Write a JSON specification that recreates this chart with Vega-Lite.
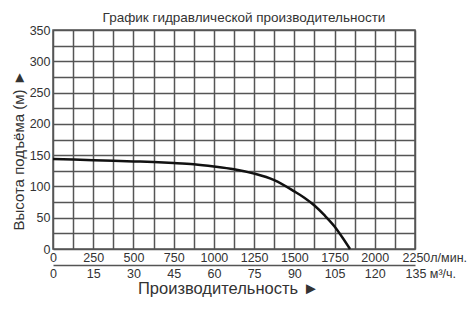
{
  "$schema": "https://vega.github.io/schema/vega-lite/v6.json",
  "width": 362,
  "height": 219,
  "autosize": {"type": "none"},
  "padding": {"left": 53, "top": 30, "right": 60, "bottom": 65},
  "background": "white",
  "title": {
    "text": "График гидравлической производительности",
    "font": "Liberation Sans",
    "fontSize": 13.5,
    "fontWeight": "normal",
    "color": "#333",
    "anchor": "middle",
    "dx": 10,
    "offset": 0
  },
  "config": {
    "view": {"stroke": "#555", "strokeWidth": 1.5, "fill": "white"},
    "axis": {
      "labelFont": "Liberation Sans",
      "labelFontSize": 12.5,
      "labelColor": "#333",
      "titleFont": "Liberation Sans",
      "titleFontSize": 13,
      "titleFontWeight": "normal",
      "titleColor": "#333",
      "gridColor": "#555",
      "gridWidth": 1.5,
      "gridOpacity": 1
    }
  },
  "data": {
    "values": [
      {"lpm": 0, "m3h": 0, "head": 144},
      {"lpm": 125, "m3h": 7.5, "head": 143},
      {"lpm": 250, "m3h": 15, "head": 142},
      {"lpm": 375, "m3h": 22.5, "head": 141},
      {"lpm": 500, "m3h": 30, "head": 140},
      {"lpm": 625, "m3h": 37.5, "head": 139},
      {"lpm": 750, "m3h": 45, "head": 137.5},
      {"lpm": 875, "m3h": 52.5, "head": 135.5},
      {"lpm": 1000, "m3h": 60, "head": 132},
      {"lpm": 1125, "m3h": 67.5, "head": 127.5},
      {"lpm": 1250, "m3h": 75, "head": 120.5},
      {"lpm": 1375, "m3h": 82.5, "head": 110},
      {"lpm": 1500, "m3h": 90, "head": 92},
      {"lpm": 1562, "m3h": 93.7, "head": 82},
      {"lpm": 1625, "m3h": 97.5, "head": 69.5},
      {"lpm": 1687, "m3h": 101.2, "head": 54},
      {"lpm": 1750, "m3h": 105, "head": 36},
      {"lpm": 1800, "m3h": 108, "head": 18},
      {"lpm": 1846, "m3h": 110.8, "head": 0}
    ]
  },
  "layer": [
    {
      "mark": {"type": "line", "color": "#111", "strokeWidth": 2.5, "interpolate": "monotone"},
      "encoding": {
        "x": {
          "field": "lpm",
          "type": "quantitative",
          "scale": {"domain": [0, 2250], "nice": false},
          "axis": {
            "orient": "bottom",
            "title": null,
            "format": "d",
            "values": [0,125,250,375,500,625,750,875,1000,1125,1250,1375,1500,1625,1750,1875,2000,2125,2250],
            "labelExpr": "datum.value == 2250 ? '2250л/мин.' : (datum.value % 250 == 0 ? datum.label : '')",
            "labelAlign": {"condition": {"test": "datum.value == 2250", "value": "left"}, "value": "center"},
            "labelOffset": {"condition": {"test": "datum.value == 2250", "value": -13}, "value": 0},
            "labelOverlap": false,
            "labelFlush": false,
            "labelBound": false,
            "domain": false,
            "ticks": false,
            "tickSize": 0,
            "labelPadding": 2,
            "grid": true
          }
        },
        "y": {
          "field": "head",
          "type": "quantitative",
          "scale": {"domain": [0, 350], "nice": false},
          "axis": {
            "title": "Высота подъёма (м) ►",
            "titleFontSize": 15,
            "titleY": 120,
            "values": [0,25,50,75,100,125,150,175,200,225,250,275,300,325,350],
            "labelExpr": "datum.value % 50 == 0 ? datum.label : ''",
            "labelOverlap": false,
            "labelFlush": false,
            "domain": false,
            "ticks": false,
            "tickSize": 0,
            "labelPadding": 3,
            "titlePadding": 3,
            "grid": true
          }
        }
      }
    },
    {
      "mark": {"type": "line", "opacity": 0},
      "encoding": {
        "x": {
          "field": "m3h",
          "type": "quantitative",
          "scale": {"domain": [0, 135], "nice": false},
          "axis": {
            "orient": "bottom",
            "offset": 16,
            "title": "Производительность ►",
            "titleFontSize": 16.5,
            "titleX": 175,
            "format": "d",
            "values": [0,15,30,45,60,75,90,105,120,135],
            "labelExpr": "datum.value == 135 ? '135 м³/ч.' : datum.label",
            "labelAlign": {"condition": {"test": "datum.value == 135", "value": "left"}, "value": "center"},
            "labelOffset": {"condition": {"test": "datum.value == 135", "value": -10}, "value": 0},
            "labelOverlap": false,
            "labelFlush": false,
            "labelBound": false,
            "domain": true,
            "domainColor": "#555",
            "domainWidth": 1.5,
            "ticks": false,
            "tickSize": 0,
            "labelPadding": 2,
            "titlePadding": 1,
            "grid": false
          }
        },
        "y": {
          "field": "head",
          "type": "quantitative",
          "scale": {"domain": [0, 350], "nice": false},
          "axis": {
            "title": "Высота подъёма (м) ►",
            "titleFontSize": 15,
            "titleY": 120,
            "values": [0,25,50,75,100,125,150,175,200,225,250,275,300,325,350],
            "labelExpr": "datum.value % 50 == 0 ? datum.label : ''",
            "labelOverlap": false,
            "labelFlush": false,
            "domain": false,
            "ticks": false,
            "tickSize": 0,
            "labelPadding": 3,
            "titlePadding": 3,
            "grid": true
          }
        }
      }
    }
  ],
  "resolve": {"scale": {"x": "independent"}, "axis": {"x": "independent"}}
}
